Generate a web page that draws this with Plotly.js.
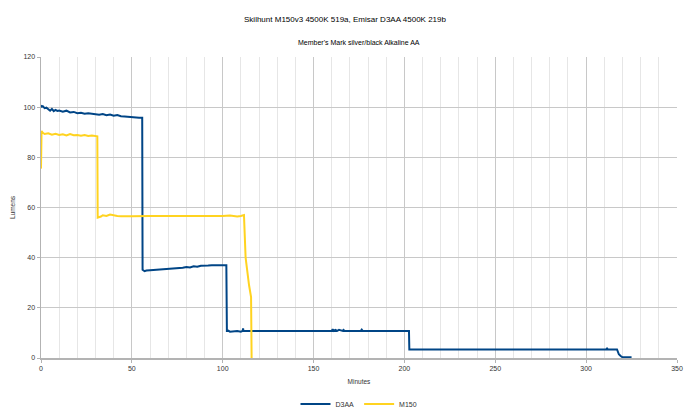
<!DOCTYPE html>
<html>
<head>
<meta charset="utf-8">
<script src="https://cdn.plot.ly/plotly-3.0.1.min.js"></script>
<style>html,body{margin:0;padding:0;background:#fff;}#chart{width:690px;height:410px;}</style>
</head>
<body>
<div id="chart"></div>
<script>
// D3AA (Emisar) runtime, minutes vs lumens
const d3aaMinutes = [0, 0.5, 1, 2, 3, 4, 5, 6, 7, 8, 9, 10, 12, 14, 16, 18, 20, 22, 24, 26, 28, 30, 32, 34, 36, 38, 40, 42, 44, 46, 48, 50, 52, 54, 55.7,
  55.9, 57, 58, 60, 62, 64, 66, 68, 70, 72, 74, 76, 78, 80, 82, 84, 86, 88, 90, 92, 94, 96, 98, 100, 102,
  102.3, 103, 104, 106, 108, 110, 111, 111.2, 111.4, 115, 130, 150, 160, 160.5, 161, 162, 163, 164, 166, 166.5, 167, 170, 176, 176.5, 177, 190, 202.5,
  202.7, 230, 260, 290, 311, 311.5, 312, 317, 317.5, 318, 319, 320, 322, 325];
const d3aaLumens = [100.8, 100.2, 100.4, 99.6, 99.8, 99.2, 98.6, 99.3, 98.4, 98.9, 98.5, 98.7, 98.2, 98.6, 97.9, 98.1, 97.6, 97.8, 97.4, 97.6, 97.3, 97.2, 97.0, 97.3, 96.8, 97.1, 96.6, 96.9, 96.4, 96.3, 96.1, 96.0, 96.0, 95.8, 95.8,
  35.2, 34.6, 34.9, 35.0, 35.1, 35.3, 35.2, 35.5, 35.4, 35.7, 35.6, 35.9, 36.0, 36.3, 36.1, 36.6, 36.4, 36.8, 36.7, 36.9, 37.0, 37.0, 37.0, 37.0, 37.0,
  10.8, 10.9, 10.5, 10.6, 10.8, 10.5, 10.8, 11.8, 10.8, 10.8, 10.8, 10.8, 10.8, 11.5, 10.8, 11.2, 10.8, 11.2, 10.8, 11.2, 10.8, 10.8, 10.8, 11.3, 10.8, 10.8, 10.8,
  3.4, 3.4, 3.4, 3.4, 3.4, 3.8, 3.4, 3.4, 2.5, 1.5, 0.8, 0.3, 0.3, 0.3];

// M150 (Skilhunt) runtime, minutes vs lumens
const m150Minutes = [0, 0.3, 1, 2, 4, 6, 8, 10, 12, 14, 16, 18, 20, 22, 24, 26, 28, 30, 31,
  31.2, 32, 33, 34, 36, 38, 40, 42, 44, 46, 50, 60, 70, 80, 82, 84, 90, 100, 104, 108, 110, 111.7,
  112.6, 113.5, 114.5, 115.6, 115.9];
const m150Lumens = [75.5, 90.5, 89.8, 89.3, 89.6, 89.0, 89.4, 88.9, 89.2, 88.7, 89.3, 88.8, 88.9, 88.6, 88.9, 88.5, 88.7, 88.4, 88.4,
  56.0, 56.1, 56.4, 56.9, 56.6, 57.2, 56.8, 56.6, 56.5, 56.6, 56.5, 56.6, 56.6, 56.7, 56.4, 56.6, 56.6, 56.6, 56.8, 56.4, 56.6, 57.0,
  40.0, 34.0, 29.0, 24.3, 0];

const seriesNames = ["D3AA", "M150"];
const chartTitle = "Skilhunt M150v3 4500K 519a, Emisar D3AA 4500K 219b";
const chartSubtitle = "Member's Mark silver/black Alkaline AA";

const font = "Liberation Sans, Arial, sans-serif";

const traces = [
  {x: d3aaMinutes, y: d3aaLumens, name: seriesNames[0], type: "scatter", mode: "lines",
   line: {color: "#004586", width: 2}},
  {x: m150Minutes, y: m150Lumens, name: seriesNames[1], type: "scatter", mode: "lines",
   line: {color: "#ffd320", width: 2}}
];

const layout = {
  width: 690, height: 410,
  paper_bgcolor: "#ffffff", plot_bgcolor: "#ffffff",
  margin: {l: 41, r: 13, t: 57, b: 52, autoexpand: false},
  font: {family: font, color: "#333333", size: 7},
  title: {text: chartTitle, x: 0.5, xanchor: "center", y: 1 - 19/410, yanchor: "middle",
          font: {family: font, size: 8, color: "#000000"}},
  annotations: [{text: chartSubtitle, xref: "paper", yref: "paper", x: 0.5, y: (358-42)/301,
                 xanchor: "center", yanchor: "middle", showarrow: false,
                 font: {family: font, size: 7, color: "#000000"}}],
  xaxis: {
    title: {text: "Minutes", font: {family: font, size: 6.5, color: "#333333"}, standoff: 8},
    range: [0, 350], dtick: 50, tick0: 0,
    showline: true, linecolor: "#b3b3b3", linewidth: 1.5,
    showgrid: true, gridcolor: "#c8c8c8", gridwidth: 1,
    ticks: "outside", ticklen: 3, tickcolor: "#b3b3b3",
    tickfont: {family: font, size: 7, color: "#333333"},
    zeroline: false,
    minor: {dtick: 10, showgrid: true, gridcolor: "#e6e6e6", gridwidth: 1, ticks: ""}
  },
  yaxis: {
    title: {text: "Lumens", font: {family: font, size: 6.5, color: "#333333"}, standoff: 7},
    range: [0, 120], dtick: 20, tick0: 0,
    showline: true, linecolor: "#b3b3b3", linewidth: 1.5,
    showgrid: true, gridcolor: "#c8c8c8", gridwidth: 1,
    ticks: "outside", ticklen: 3, tickcolor: "#b3b3b3",
    tickfont: {family: font, size: 7, color: "#333333"},
    zeroline: false
  },
  showlegend: true,
  legend: {orientation: "h", x: 0.5, xanchor: "center", y: -46/301, yanchor: "middle",
           font: {family: font, size: 7, color: "#333333"}, tracegroupgap: 0}
};

Plotly.newPlot("chart", traces, layout, {displayModeBar: false, staticPlot: true});
</script>
</body>
</html>
